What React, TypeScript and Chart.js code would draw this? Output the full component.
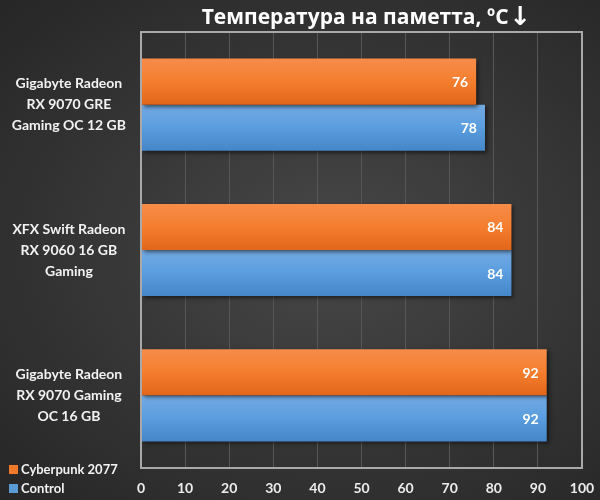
import { useEffect, useRef } from 'react'
import { Chart, registerables } from 'chart.js'

Chart.register(...registerables)

const TITLE = 'Температура на паметта, ºC'
const TITLE_ARROW = '↓'
const CARDS = [
  ['Gigabyte Radeon', 'RX 9070 GRE', 'Gaming OC 12 GB'],
  ['XFX Swift Radeon', 'RX 9060 16 GB', 'Gaming'],
  ['Gigabyte Radeon', 'RX 9070 Gaming', 'OC 16 GB'],
]
const SERIES = ['Cyberpunk 2077', 'Control']
const CYBERPUNK = [76, 84, 92]
const CONTROL = [78, 84, 92]
const X_TICKS = [0, 10, 20, 30, 40, 50, 60, 70, 80, 90, 100]

const FONT = "Lato, 'Noto Sans', sans-serif"
const CAT_PCT = 0.634
const COLORS = [
  { top: '#f68c4a', mid: '#f47e2e', bot: '#e2661a', solid: '#f07a2a' },
  { top: '#73aae2', mid: '#5a9ddf', bot: '#4486c8', solid: '#5b9bd5' },
]

const barFill = (ctx: any) => {
  const chart = ctx.chart
  const c = COLORS[ctx.datasetIndex]
  const ys = chart.scales?.y
  if (!ys || !chart.chartArea || ctx.dataIndex === undefined) return c.solid
  const center = ys.getPixelForValue(ctx.dataIndex)
  const catH = ((ys.bottom - ys.top) / CARDS.length) * CAT_PCT
  const barH = catH / 2
  const top = center - catH / 2 + ctx.datasetIndex * barH
  const g = chart.ctx.createLinearGradient(0, top, 0, top + barH)
  g.addColorStop(0, c.top)
  g.addColorStop(0.5, c.mid)
  g.addColorStop(1, c.bot)
  return g
}

const decor = {
  id: 'decor',
  beforeDatasetsDraw(chart: any) {
    const { ctx } = chart
    ctx.save()
    ctx.shadowColor = 'rgba(0,0,0,0.55)'
    ctx.shadowBlur = 4
    ctx.shadowOffsetX = 2
    ctx.shadowOffsetY = 2
  },
  afterDatasetsDraw(chart: any) {
    const { ctx, chartArea: a } = chart
    ctx.restore()
    // frame
    ctx.save()
    ctx.strokeStyle = '#a9a9a9'
    ctx.lineWidth = 2
    ctx.strokeRect(a.left, a.top, a.right - a.left, a.bottom - a.top)
    // value labels
    ctx.fillStyle = '#ffffff'
    ctx.font = `bold 14px ${FONT}`
    ctx.textAlign = 'right'
    ctx.textBaseline = 'middle'
    chart.data.datasets.forEach((ds: any, i: number) => {
      chart.getDatasetMeta(i).data.forEach((bar: any, j: number) => {
        ctx.fillText(String(ds.data[j]), bar.x - 8, bar.y + 1)
      })
    })
    // title
    ctx.textBaseline = 'middle'
    ctx.textAlign = 'left'
    const mainFont = `bold 21px 'Open Sans', sans-serif`
    const arrowFont = `bold 26px 'DejaVu Sans', sans-serif`
    ctx.font = mainFont
    const w1 = ctx.measureText(TITLE).width
    ctx.font = arrowFont
    const w2 = ctx.measureText(TITLE_ARROW).width
    const x0 = 366 - (w1 + w2) / 2
    ctx.font = mainFont
    ctx.fillText(TITLE, x0, 18)
    ctx.font = arrowFont
    ctx.fillText(TITLE_ARROW, x0 + w1 + 1, 18)
    ctx.restore()
  },
}

export default function App() {
  const canvasRef = useRef<HTMLCanvasElement>(null)

  useEffect(() => {
    if (!canvasRef.current) return
    const chart = new Chart(canvasRef.current, {
      type: 'bar',
      data: {
        labels: CARDS,
        datasets: [
          { label: SERIES[0], data: CYBERPUNK, backgroundColor: barFill, borderWidth: 0 },
          { label: SERIES[1], data: CONTROL, backgroundColor: barFill, borderWidth: 0 },
        ],
      },
      options: {
        indexAxis: 'y',
        animation: false,
        responsive: false,
        devicePixelRatio: 1,
        categoryPercentage: CAT_PCT,
        barPercentage: 1,
        layout: { padding: { top: 32, right: 18, left: 0, bottom: 0 } },
        plugins: {
          legend: { display: false },
          tooltip: { enabled: false },
        },
        scales: {
          x: {
            min: 0,
            max: 100,
            afterBuildTicks: (s: any) => { s.ticks = X_TICKS.map((v) => ({ value: v })) },
            afterFit: (s: any) => { s.height = 32; s.paddingRight = 0; s.paddingLeft = 0 },
            grid: { color: '#575757', lineWidth: 1, drawTicks: false },
            border: { display: false },
            ticks: { color: '#ececec', font: { family: FONT, size: 14, weight: 'bold' }, padding: 12 },
          },
          y: {
            afterFit: (s: any) => { s.width = 141; s.paddingTop = 0; s.paddingBottom = 0 },
            grid: { display: false },
            border: { display: false },
            ticks: {
              color: '#f2f2f2',
              font: { family: FONT, size: 14, weight: 'bold', lineHeight: 1.5 },
              crossAlign: 'center',
              padding: 7,
            },
          },
        },
      },
      plugins: [decor],
    })
    return () => { chart.destroy() }
  }, [])

  return (
    <div style={{
      position: 'absolute', left: 0, top: 0, width: 600, height: 500,
      background: 'radial-gradient(ellipse at 55% 50%, #484848 0%, #383838 45%, #262626 100%)',
    }}>
      <canvas ref={canvasRef} width={600} height={500} style={{ position: 'absolute', left: 0, top: 0 }} />
      <div style={{ position: 'absolute', left: 9, top: 460, fontFamily: FONT, fontWeight: 'bold', fontSize: 13, color: '#f2f2f2', lineHeight: '19px' }}>
        {SERIES.map((s, i) => (
          <div key={s} style={{ display: 'flex', alignItems: 'center' }}>
            <span style={{ display: 'inline-block', width: 9, height: 9, background: COLORS[i].solid, marginRight: 3 }} />
            {s}
          </div>
        ))}
      </div>
    </div>
  )
}
